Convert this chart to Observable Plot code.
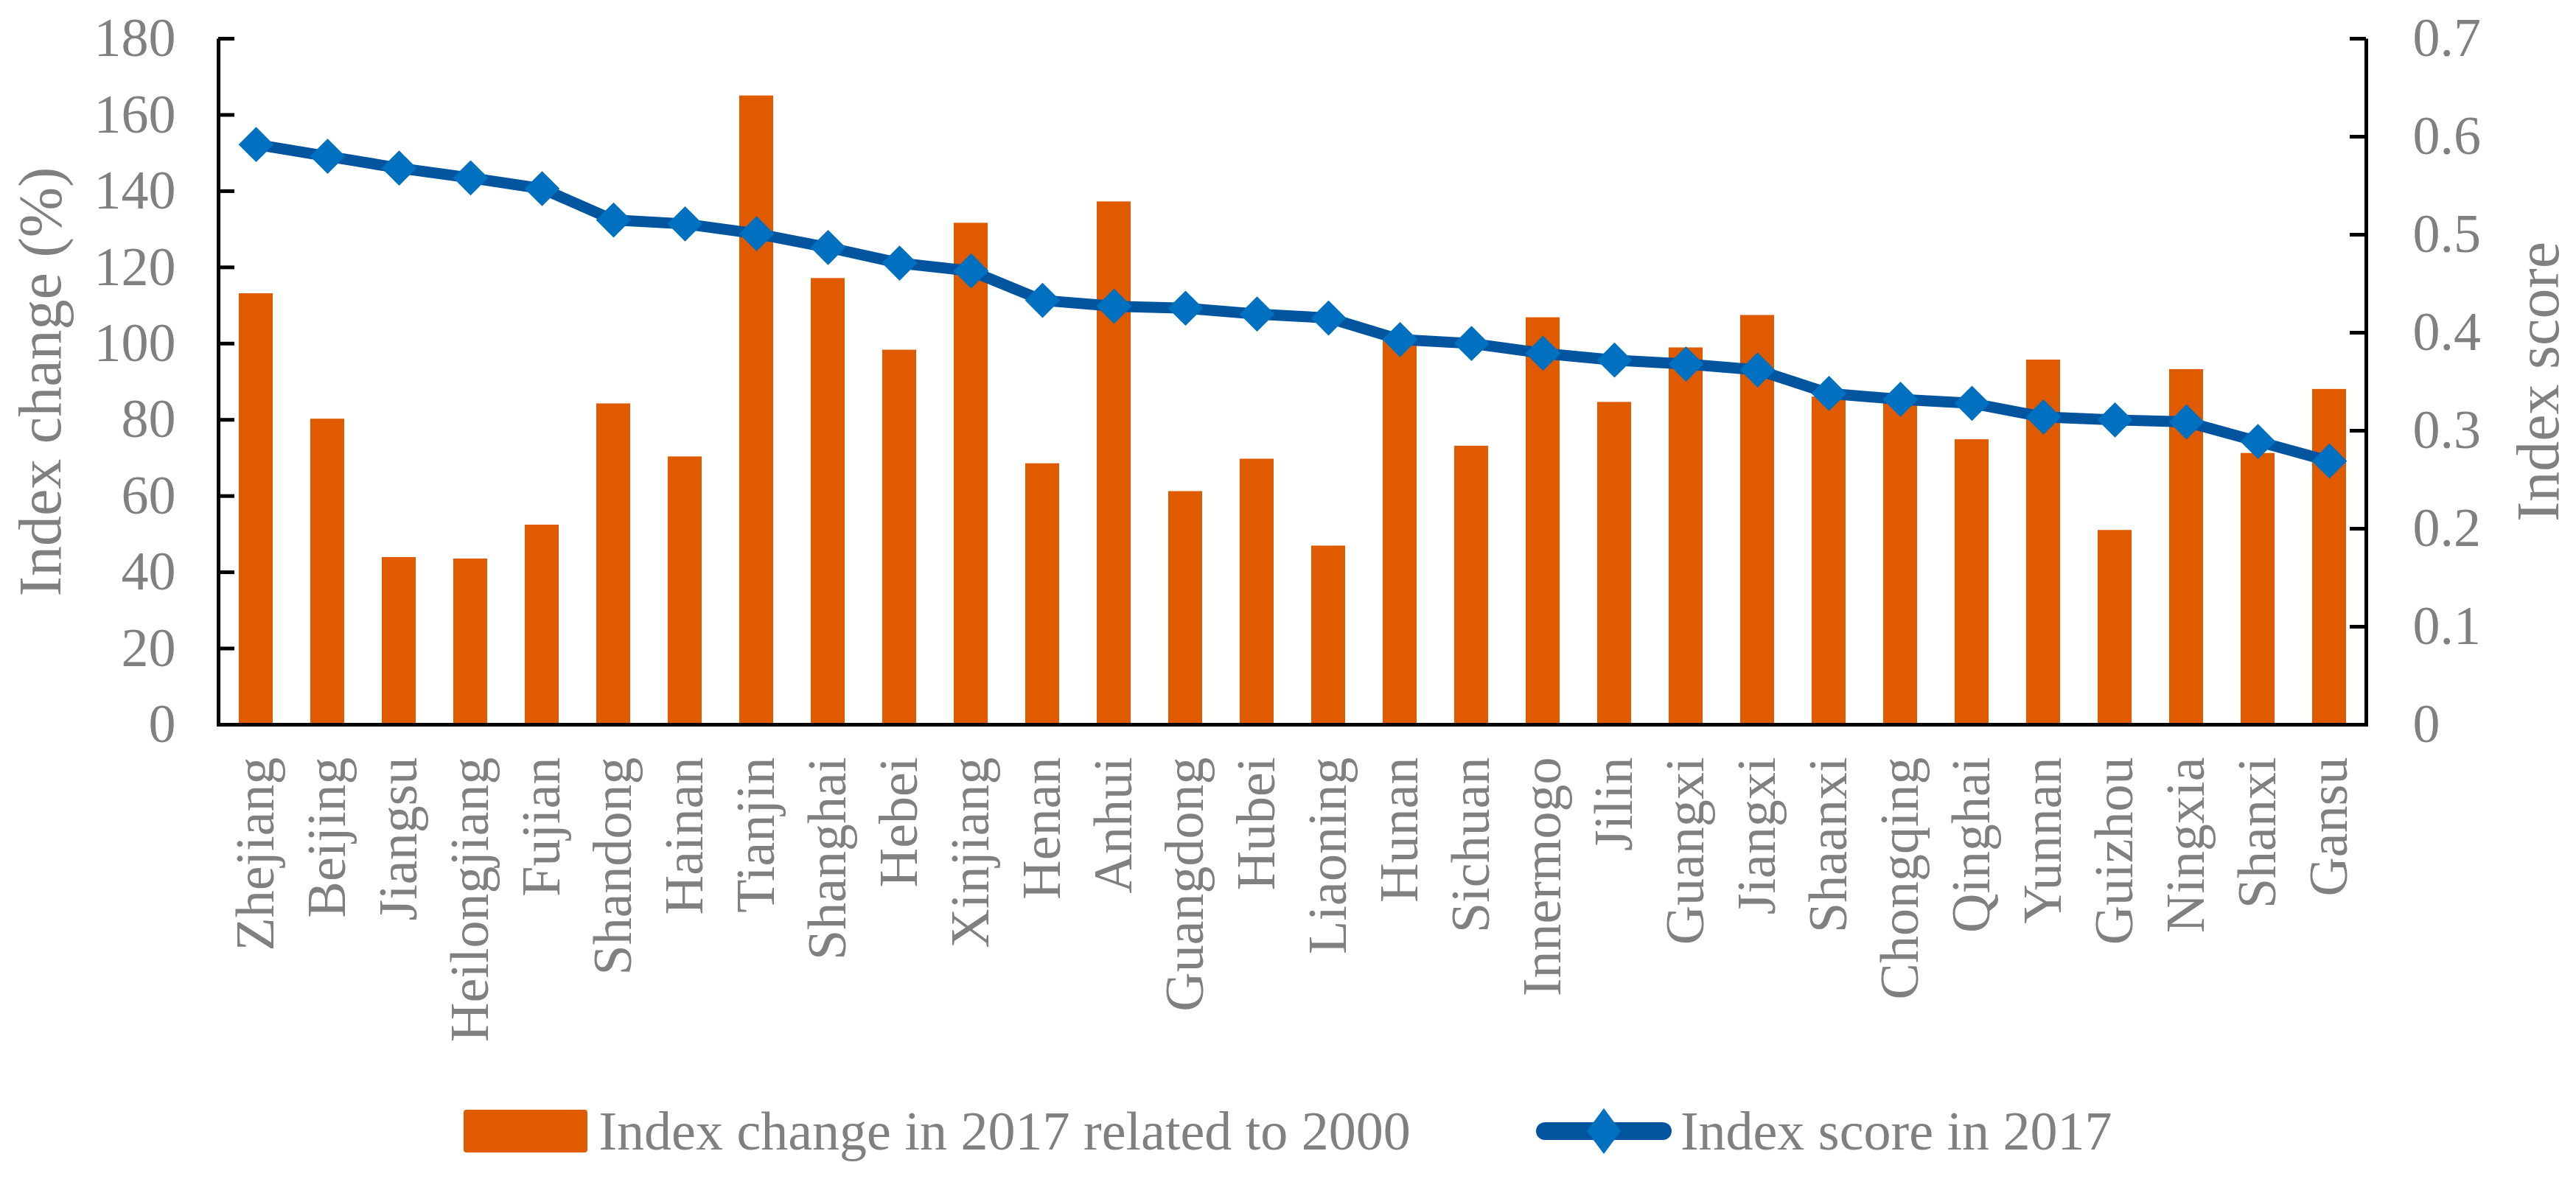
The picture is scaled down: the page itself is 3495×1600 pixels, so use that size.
<!DOCTYPE html>
<html>
<head>
<meta charset="utf-8">
<script src="https://cdn.jsdelivr.net/npm/d3@7"></script>
<script src="https://cdn.jsdelivr.net/npm/@observablehq/plot@0.6"></script>
<style>
  html, body { margin: 0; padding: 0; background: #ffffff; }
  #wrap { position: relative; width: 3495px; height: 1600px; font-family: "Liberation Serif", "Times New Roman", serif; }
  #wrap > svg { position: absolute; left: 0; top: 0; }
  #legend { position: absolute; left: 0; top: 1470px; width: 3495px; height: 130px;
            display: flex; justify-content: center; align-items: center; gap: 170px;
            color: #808080; font-size: 74px; line-height: 1; }
  .item { display: flex; align-items: center; }
  .sw-bar { width: 168px; height: 58px; background: #E05A00; border-radius: 4px; margin-right: 15px; }
  .sw-line { display: block; margin-right: 12px; }
</style>
</head>
<body>
<div id="wrap"></div>
<script>
// ---- data ----
const categories = ["Zhejiang","Beijing","Jiangsu","Heilongjiang","Fujian","Shandong","Hainan","Tianjin","Shanghai","Hebei","Xinjiang","Henan","Anhui","Guangdong","Hubei","Liaoning","Hunan","Sichuan","Innermogo","Jilin","Guangxi","Jiangxi","Shaanxi","Chongqing","Qinghai","Yunnan","Guizhou","Ningxia","Shanxi","Gansu"];
const indexChange = [113.1, 80.2, 43.9, 43.5, 52.4, 84.2, 70.3, 165.0, 117.1, 98.3, 131.6, 68.5, 137.2, 61.2, 69.7, 46.9, 101.5, 73.1, 106.8, 84.6, 98.9, 107.4, 86.0, 84.5, 74.8, 95.7, 51.0, 93.2, 71.2, 88.0];
const indexScore = [0.592, 0.580, 0.568, 0.558, 0.547, 0.515, 0.511, 0.501, 0.487, 0.471, 0.463, 0.433, 0.427, 0.425, 0.419, 0.415, 0.393, 0.389, 0.379, 0.372, 0.368, 0.362, 0.338, 0.332, 0.328, 0.314, 0.311, 0.309, 0.289, 0.269];
const leftTicks = [0, 20, 40, 60, 80, 100, 120, 140, 160, 180];
const rightTicks = [0, 0.1, 0.2, 0.3, 0.4, 0.5, 0.6, 0.7];
const leftTitle = "Index change (%)";
const rightTitle = "Index score";
const seriesNames = ["Index change in 2017 related to 2000", "Index score in 2017"];

const data = categories.map((c, i) => ({province: c, change: indexChange[i], score: indexScore[i]}));

// ---- layout ----
const width = 3495, height = 1470;
const mL = 296, mR = 285, mT = 52, mB = 487;
const W = width - mL - mR, H = height - mT - mB;
const gray = "#808080";
const orange = "#E05A00";
const lineBlue = "#00559E";
const markBlue = "#0070C0";
const font = "Liberation Serif";

const xScale = {type: "band", domain: categories, paddingInner: 0.53, paddingOuter: 0.265, align: 0.5};

const base = Plot.plot({
  width, height,
  marginLeft: mL, marginRight: mR, marginTop: mT, marginBottom: mB,
  style: {fontFamily: font, fontSize: "74px", background: "transparent", overflow: "visible"},
  x: {...xScale, label: null},
  y: {domain: [0, 180], label: null},
  marks: [
    Plot.barY(data, {x: "province", y: "change", fill: orange}),
    Plot.frame({stroke: "black", strokeWidth: 5, strokeDasharray: `0 ${W} ${W + 2 * H} 0`}),
    Plot.ruleY(leftTicks, {y: d => d, insetRight: W - 22, stroke: "black", strokeWidth: 5}),
    Plot.axisY(leftTicks, {anchor: "left", tickSize: 0, tickPadding: 58, fontSize: 74, color: gray, label: null, tickFormat: d => String(d)}),
    Plot.axisX({tickRotate: -90, tickSize: 0, tickPadding: 44, fontSize: 74, color: gray, label: null}),
    Plot.text([leftTitle], {text: d => d, frameAnchor: "left", textAnchor: "middle", dx: -241, rotate: -90, fontSize: 82, fill: gray})
  ]
});

const overlay = Plot.plot({
  width, height,
  marginLeft: mL, marginRight: mR, marginTop: mT, marginBottom: mB,
  style: {fontFamily: font, fontSize: "74px", background: "transparent", overflow: "visible"},
  x: {...xScale, axis: null, label: null},
  y: {domain: [0, 0.7], label: null},
  marks: [
    Plot.ruleY(rightTicks, {y: d => d, insetLeft: W - 22, stroke: "black", strokeWidth: 5}),
    Plot.axisY(rightTicks, {anchor: "right", tickSize: 0, tickPadding: 63, fontSize: 74, color: gray, label: null, tickFormat: d => String(d)}),
    Plot.text([rightTitle], {text: d => d, frameAnchor: "right", textAnchor: "middle", dx: 234, rotate: -90, fontSize: 82, fill: gray}),
    Plot.lineY(data, {x: "province", y: "score", stroke: lineBlue, strokeWidth: 15, strokeLinejoin: "round"}),
    Plot.dot(data, {x: "province", y: "score", symbol: "diamond2", r: 21.5, fill: markBlue, stroke: "none"})
  ]
});

const wrap = document.getElementById("wrap");
wrap.appendChild(base);
wrap.appendChild(overlay);

// ---- legend ----
const legend = document.createElement("div");
legend.id = "legend";
legend.innerHTML = `
  <div class="item"><div class="sw-bar"></div><span>${seriesNames[0]}</span></div>
  <div class="item"><svg class="sw-line" width="184" height="66" viewBox="0 0 184 66">
      <line x1="12" y1="33" x2="172" y2="33" stroke="${lineBlue}" stroke-width="24" stroke-linecap="round"/>
      <path d="M92 2 L115 33 L92 64 L69 33 Z" fill="${markBlue}"/>
    </svg><span>${seriesNames[1]}</span></div>`;
wrap.appendChild(legend);
</script>
</body>
</html>
